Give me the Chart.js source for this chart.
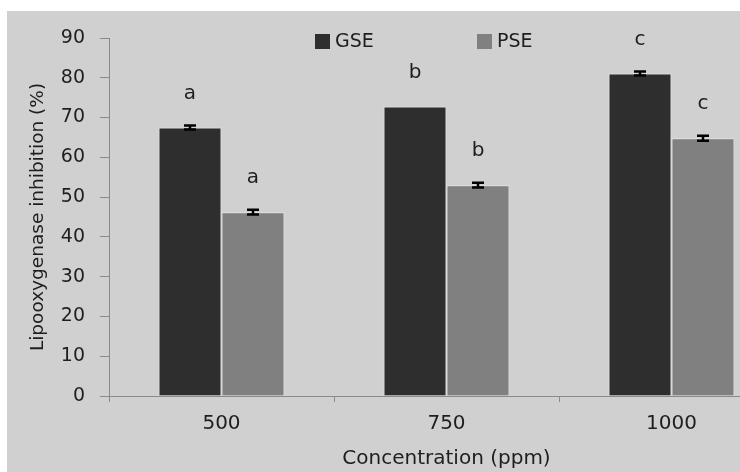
<!DOCTYPE html>
<html>
<head>
<meta charset="utf-8">
<script src="https://cdn.jsdelivr.net/npm/chart.js@4.4.1/dist/chart.umd.min.js"></script>
<style>
  html, body { margin: 0; padding: 0; background: #ffffff; width: 740px; height: 472px; overflow: hidden; }
  #wrap { position: absolute; left: 7px; top: 11px; width: 790px; height: 461px; background: #d0d0d0; }
</style>
</head>
<body>
<div id="wrap"><canvas id="chart"></canvas></div>
<script>
// data
const categories = ['500', '750', '1000'];
const gseValues = [67.5, 72.8, 81.1];
const pseValues = [46.2, 53.0, 64.8];
const gseErrors = [0.5, 0, 0.5];
const pseErrors = [0.6, 0.6, 0.6];
const gseLetters = ['a', 'b', 'c'];
const pseLetters = ['a', 'b', 'c'];

const FONT = 'DejaVu Sans';
const TEXT = '#1e1e1e';

// error bars + significance letters on top of each bar
const barExtras = {
  id: 'barExtras',
  afterDatasetsDraw(chart) {
    const ctx = chart.ctx;
    const y = chart.scales.y;
    chart.data.datasets.forEach((ds, i) => {
      const meta = chart.getDatasetMeta(i);
      meta.data.forEach((bar, j) => {
        const v = ds.data[j];
        const e = ds.errors[j];
        ctx.save();
        if (e > 0) {
          const yTop = y.getPixelForValue(v + e);
          const yBot = y.getPixelForValue(v - e);
          ctx.strokeStyle = '#000';
          ctx.lineWidth = 2.5;
          ctx.beginPath();
          ctx.moveTo(bar.x - 6, yTop); ctx.lineTo(bar.x + 6, yTop);
          ctx.moveTo(bar.x - 6, yBot); ctx.lineTo(bar.x + 6, yBot);
          ctx.moveTo(bar.x, yTop); ctx.lineTo(bar.x, yBot);
          ctx.stroke();
        }
        // letter
        ctx.fillStyle = TEXT;
        ctx.font = '20px "' + FONT + '"';
        ctx.textAlign = 'center';
        ctx.textBaseline = 'middle';
        ctx.fillText(ds.letters[j], bar.x, y.getPixelForValue(v) - 34);
        ctx.restore();
      });
    });
  }
};

// legend drawn inside the plot, like the original
const innerLegend = {
  id: 'innerLegend',
  afterDraw(chart) {
    const ctx = chart.ctx;
    const xs = [308, 470];
    ctx.save();
    ctx.font = '19px "' + FONT + '"';
    ctx.textBaseline = 'middle';
    ctx.textAlign = 'left';
    chart.data.datasets.forEach((ds, i) => {
      ctx.fillStyle = ds.backgroundColor;
      ctx.fillRect(xs[i], 23, 15, 15);
      ctx.fillStyle = TEXT;
      ctx.fillText(ds.label, xs[i] + 20, 31);
    });
    ctx.restore();
  }
};

new Chart(document.getElementById('chart'), {
  type: 'bar',
  data: {
    labels: categories,
    datasets: [
      { label: 'GSE', data: gseValues, errors: gseErrors, letters: gseLetters,
        backgroundColor: '#2e2e2e', borderColor: '#e4e4e4', borderWidth: 1 },
      { label: 'PSE', data: pseValues, errors: pseErrors, letters: pseLetters,
        backgroundColor: '#808080', borderColor: '#e4e4e4', borderWidth: 1 }
    ]
  },
  options: {
    responsive: true,
    maintainAspectRatio: false,
    animation: false,
    layout: { padding: { top: 27, right: 13, left: 0, bottom: 0 } },
    datasets: { bar: { barPercentage: 1, categoryPercentage: 0.56 } },
    plugins: { legend: { display: false }, tooltip: { enabled: false } },
    scales: {
      x: {
        grid: { display: true, offset: true, drawOnChartArea: false, tickLength: 6, color: '#8a8a8a' },
        border: { color: '#8a8a8a', width: 1 },
        ticks: { color: TEXT, font: { family: FONT, size: 20 }, padding: 10 },
        title: { display: true, text: 'Concentration (ppm)', color: TEXT,
                 font: { family: FONT, size: 20 }, padding: { top: 0, bottom: 1 } },
        afterFit(s) { s.height = 76; }
      },
      y: {
        min: 0, max: 90,
        ticks: { stepSize: 10, color: TEXT, font: { family: FONT, size: 19 }, padding: 15 },
        grid: { drawOnChartArea: false, tickLength: 9, color: '#8a8a8a' },
        border: { color: '#8a8a8a', width: 1 },
        title: { display: true, text: 'Lipooxygenase inhibition (%)', color: TEXT,
                 font: { family: FONT, size: 18.5 }, padding: { top: 20, bottom: 0 } },
        afterFit(s) { s.width = 102; }
      }
    }
  },
  plugins: [barExtras, innerLegend]
});
</script>
</body>
</html>
